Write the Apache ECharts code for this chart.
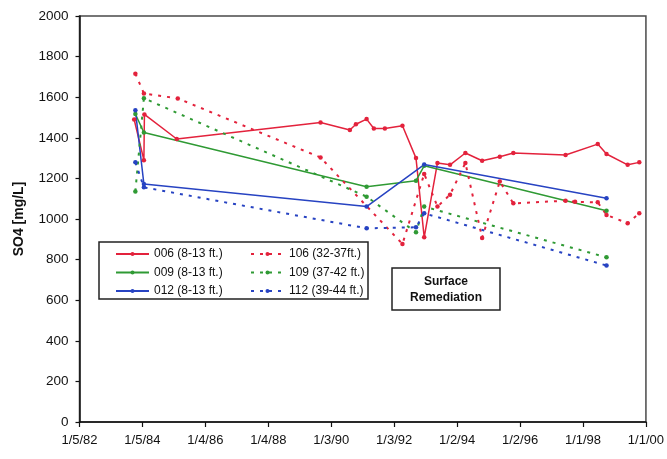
<!DOCTYPE html>
<html>
<head>
<meta charset="utf-8">
<script src="https://cdn.jsdelivr.net/npm/echarts@6/dist/echarts.min.js"></script>
<style>
  html, body { margin: 0; padding: 0; background: #fff; }
  #chart { width: 667px; height: 459px; }
</style>
</head>
<body>
<div id="chart"></div>
<script>
// Sulfate sampling history per monitoring well (sample date, SO4 mg/L)
const well006Dates = ['1983-10-01','1984-01-22','1984-01-28','1985-02-06','1989-09-01','1990-08-07','1990-10-16','1991-02-17','1991-05-12','1991-09-17','1992-04-08','1992-09-12','1992-12-16','1993-05-19','1993-10-12','1994-04-08','1994-10-19','1995-05-12','1995-10-16','1997-06-13','1998-06-21','1998-10-01','1999-06-03','1999-10-16'];
const well006Values = [1490, 1290, 1515, 1394, 1475, 1438, 1467, 1492, 1446, 1446, 1459, 1300, 910, 1276, 1267, 1325, 1287, 1307, 1325, 1315, 1369, 1320, 1267, 1279];

const well009Dates = ['1983-10-15','1984-01-22','1991-02-17','1992-09-12','1992-12-16','1998-10-01'];
const well009Values = [1517, 1426, 1159, 1189, 1262, 1041];

const well012Dates = ['1983-10-15','1984-01-22','1991-02-17','1992-12-16','1998-10-01'];
const well012Values = [1536, 1172, 1061, 1268, 1102];

const well106Dates = ['1983-10-15','1984-01-22','1985-02-18','1989-09-01','1992-04-08','1992-12-16','1993-05-19','1993-10-12','1994-04-08','1994-10-19','1995-05-12','1995-10-16','1997-06-13','1997-10-01','1998-06-21','1998-10-01','1999-06-03','1999-10-16'];
const well106Values = [1716, 1618, 1594, 1303, 877, 1222, 1061, 1120, 1276, 907, 1185, 1077, 1090, 1085, 1082, 1020, 979, 1028];

const well109Dates = ['1983-10-15','1984-01-22','1991-02-17','1992-09-12','1992-12-16','1998-10-01'];
const well109Values = [1136, 1595, 1110, 935, 1061, 811];

const well112Dates = ['1983-10-15','1984-01-22','1991-02-17','1992-09-12','1992-12-16','1998-10-01'];
const well112Values = [1279, 1156, 954, 959, 1028, 771];

const seriesNames = ['006 (8-13 ft.)', '009 (8-13 ft.)', '012 (8-13 ft.)', '106 (32-37ft.)', '109 (37-42 ft.)', '112 (39-44 ft.)'];

// Date axis: days counted from the first tick date, ticks every 730 days
const AXIS_START = Date.UTC(1982, 0, 5);
const DAY_MS = 86400000;
const TICK_DAYS = 730;
const AXIS_SPAN = 6570;

function dayOffset(s) {
  const p = s.split('-').map(Number);
  return Math.round((Date.UTC(p[0], p[1] - 1, p[2]) - AXIS_START) / DAY_MS);
}
function pairs(dates, values) {
  return dates.map((d, i) => [dayOffset(d), values[i]]);
}
function dateLabel(v) {
  const d = new Date(AXIS_START + v * DAY_MS);
  const yy = String(d.getUTCFullYear() % 100).padStart(2, '0');
  return (d.getUTCMonth() + 1) + '/' + d.getUTCDate() + '/' + yy;
}

const RED = '#e3223c', GREEN = '#2f9a34', BLUE = '#2743c2';
const FONT = 'Liberation Sans, Arial, sans-serif';

function makeSeries(name, dates, values, color, dotted) {
  return {
    name: name,
    type: 'line',
    data: pairs(dates, values),
    symbol: 'circle',
    symbolSize: 4.5,
    showSymbol: true,
    itemStyle: { color: color },
    lineStyle: dotted
      ? { color: color, width: 2, type: [3, 6] }
      : { color: color, width: 1.5 },
    emphasis: { disabled: true }
  };
}

const chart = echarts.init(document.getElementById('chart'), null, { renderer: 'canvas' });

const legendText = { fontFamily: FONT, fontSize: 12, color: '#111' };
const legendCommon = {
  orient: 'vertical',
  top: 243,
  itemWidth: 33, itemHeight: 5, itemGap: 6.5,
  textStyle: legendText,
  selectedMode: false
};

chart.setOption({
  animation: false,
  backgroundColor: '#ffffff',
  grid: {
    left: 79.5, right: 20.5, top: 16, bottom: 37,
    show: true, borderColor: '#4a4a4a', borderWidth: 1.5, backgroundColor: 'transparent'
  },
  xAxis: {
    type: 'value',
    min: 0,
    max: AXIS_SPAN,
    interval: TICK_DAYS,
    axisLine: { show: true, lineStyle: { color: '#111', width: 1.5 } },
    axisTick: { show: true, length: 5, lineStyle: { color: '#111', width: 1.2 } },
    splitLine: { show: false },
    axisLabel: { formatter: dateLabel, margin: 12, fontFamily: FONT, fontSize: 13, color: '#111' }
  },
  yAxis: {
    type: 'value',
    min: 0,
    max: 2000,
    interval: 200,
    name: 'SO4 [mg/L]',
    nameLocation: 'middle',
    nameGap: 53,
    nameTextStyle: { fontFamily: FONT, fontSize: 14, fontWeight: 'bold', color: '#111' },
    axisLine: { show: true, lineStyle: { color: '#111', width: 1.5 } },
    axisTick: { show: true, length: 4, lineStyle: { color: '#111', width: 1.2 } },
    splitLine: { show: false },
    axisLabel: {
      formatter: v => String(v),
      margin: 11, fontFamily: FONT, fontSize: 13.5, color: '#111'
    }
  },
  legend: [
    Object.assign({ data: seriesNames.slice(0, 3), left: 110 }, legendCommon),
    Object.assign({ data: seriesNames.slice(3), left: 245 }, legendCommon)
  ],
  graphic: [
    {
      type: 'rect', z: 0,
      shape: { x: 99, y: 242, width: 269, height: 57 },
      style: { fill: '#fff', stroke: '#222', lineWidth: 1.5 }
    },
    {
      type: 'rect', z: 0,
      shape: { x: 392, y: 268, width: 108, height: 42 },
      style: { fill: '#fff', stroke: '#222', lineWidth: 1.5 }
    },
    {
      type: 'text', z: 1,
      x: 446, y: 282,
      style: {
        text: 'Surface', align: 'center', verticalAlign: 'middle',
        font: 'bold 12px ' + FONT, fill: '#111'
      }
    },
    {
      type: 'text', z: 1,
      x: 446, y: 298,
      style: {
        text: 'Remediation', align: 'center', verticalAlign: 'middle',
        font: 'bold 12px ' + FONT, fill: '#111'
      }
    }
  ],
  series: [
    makeSeries(seriesNames[0], well006Dates, well006Values, RED, false),
    makeSeries(seriesNames[1], well009Dates, well009Values, GREEN, false),
    makeSeries(seriesNames[2], well012Dates, well012Values, BLUE, false),
    makeSeries(seriesNames[3], well106Dates, well106Values, RED, true),
    makeSeries(seriesNames[4], well109Dates, well109Values, GREEN, true),
    makeSeries(seriesNames[5], well112Dates, well112Values, BLUE, true)
  ]
});
</script>
</body>
</html>
